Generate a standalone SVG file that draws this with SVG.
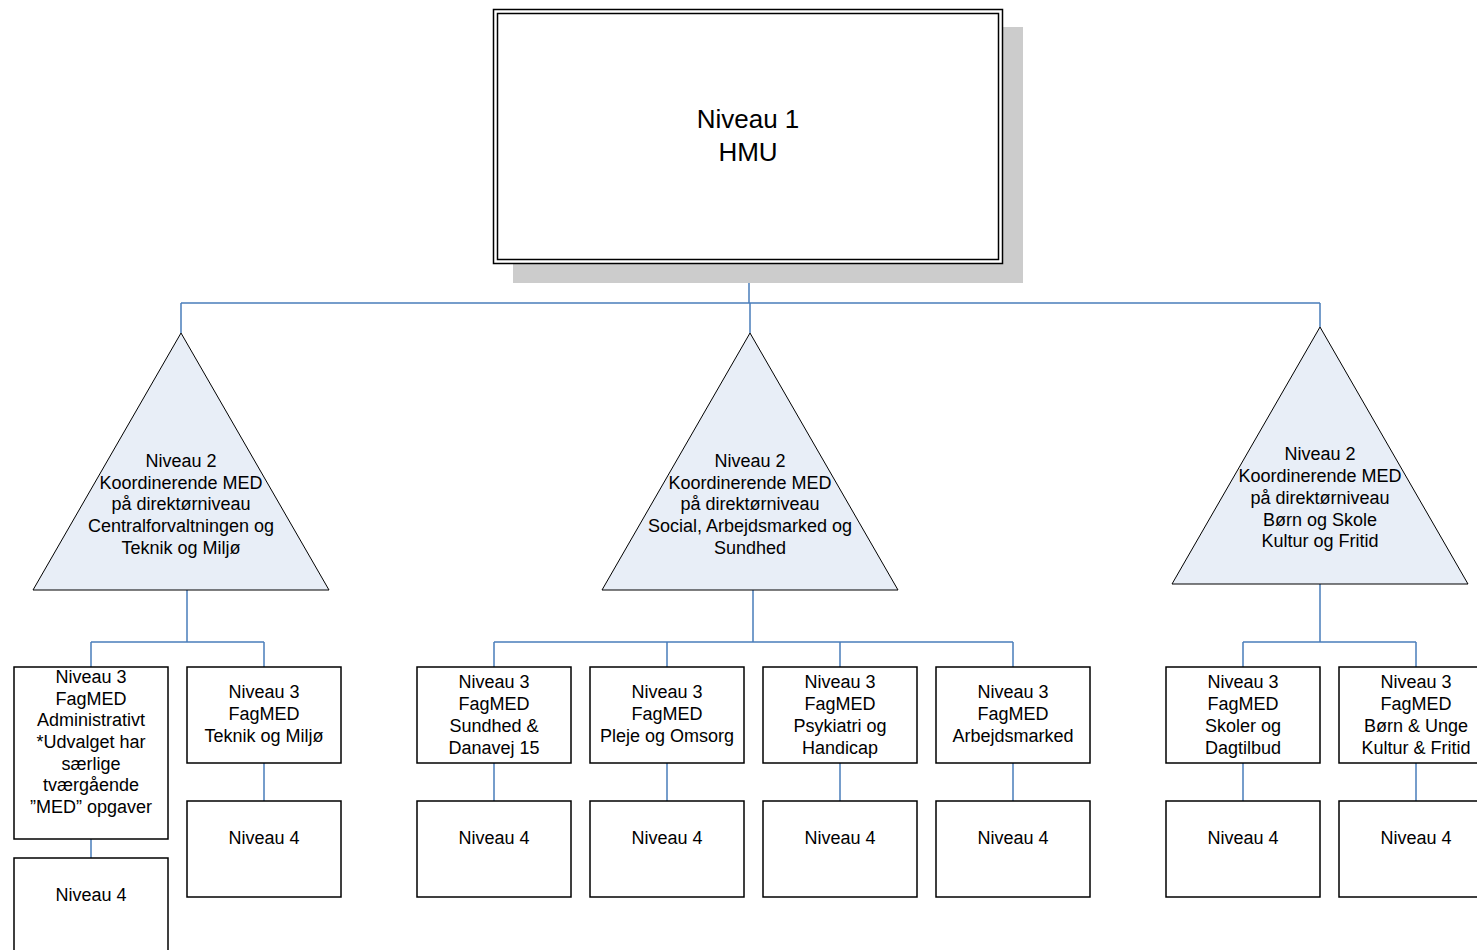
<svg xmlns="http://www.w3.org/2000/svg" width="1477" height="950" viewBox="0 0 1477 950">
<style>
text{font-family:"Liberation Sans",Arial,sans-serif;font-size:18px;fill:#000;text-anchor:middle}
.box{fill:#fff;stroke:#000;stroke-width:1.5}
.tri{fill:#e8eef7;stroke:#000;stroke-width:1}
.con{fill:none;stroke:#4a7ebb;stroke-width:1.5}
</style>
<rect width="1477" height="950" fill="#fff"/>
<g id="connectors">
<path class="con" d="M749 263V303M181 303H1320M181 303V333M750 303V333M1320 303V327"/>
<path class="con" d="M187 590V642M91 642H264M91 642V667M264 642V667M91 839V858M264 763V801"/>
<path class="con" d="M753 590V642M494 642H1013M494 642V667M667 642V667M840 642V667M1013 642V667M494 763V801M667 763V801M840 763V801M1013 763V801"/>
<path class="con" d="M1320 584V642M1243 642H1416M1243 642V667M1416 642V667M1243 763V801M1416 763V801"/>
</g>
<g id="n1">
<rect x="513" y="27" width="510" height="256" fill="#cccccc"/>
<rect x="493.5" y="9.5" width="509" height="254" fill="#fff" stroke="#000" stroke-width="1.5"/>
<rect x="497.5" y="13.5" width="501" height="246" fill="none" stroke="#000" stroke-width="1.5"/>
<text x="748" y="128" style="font-size:26px">Niveau 1</text>
<text x="748" y="161" style="font-size:26px">HMU</text>
</g>
<g id="n2a">
<polygon class="tri" points="181,333 329,590 33,590"/>
<text x="181" y="467">Niveau 2</text>
<text x="181" y="488.5">Koordinerende MED</text>
<text x="181" y="510">på direktørniveau</text>
<text x="181" y="532">Centralforvaltningen og</text>
<text x="181" y="553.5">Teknik og Miljø</text>
</g>
<g id="n2b">
<polygon class="tri" points="750,333 898,590 602,590"/>
<text x="750" y="467">Niveau 2</text>
<text x="750" y="488.5">Koordinerende MED</text>
<text x="750" y="510">på direktørniveau</text>
<text x="750" y="532">Social, Arbejdsmarked og</text>
<text x="750" y="553.5">Sundhed</text>
</g>
<g id="n2c">
<polygon class="tri" points="1320,327 1468,584 1172,584"/>
<text x="1320" y="460">Niveau 2</text>
<text x="1320" y="482">Koordinerende MED</text>
<text x="1320" y="504">på direktørniveau</text>
<text x="1320" y="525.5">Børn og Skole</text>
<text x="1320" y="547">Kultur og Fritid</text>
</g>
<g id="n3a">
<rect class="box" x="14" y="667" width="154" height="172"/>
<text x="91" y="683">Niveau 3</text>
<text x="91" y="704.5">FagMED</text>
<text x="91" y="726">Administrativt</text>
<text x="91" y="748">*Udvalget har</text>
<text x="91" y="769.5">særlige</text>
<text x="91" y="791">tværgående</text>
<text x="91" y="813">”MED” opgaver</text>
</g>
<g id="n4a">
<rect class="box" x="14" y="858" width="154" height="100"/>
<text x="91" y="901">Niveau 4</text>
</g>
<g id="n3b">
<rect class="box" x="187" y="667" width="154" height="96"/>
<text x="264" y="698">Niveau 3</text>
<text x="264" y="720">FagMED</text>
<text x="264" y="742">Teknik og Miljø</text>
</g>
<g id="n4b">
<rect class="box" x="187" y="801" width="154" height="96"/>
<text x="264" y="844">Niveau 4</text>
</g>
<g id="n3c">
<rect class="box" x="417" y="667" width="154" height="96"/>
<text x="494" y="688">Niveau 3</text>
<text x="494" y="710">FagMED</text>
<text x="494" y="732">Sundhed &amp;</text>
<text x="494" y="754">Danavej 15</text>
</g>
<g id="n4c">
<rect class="box" x="417" y="801" width="154" height="96"/>
<text x="494" y="844">Niveau 4</text>
</g>
<g id="n3d">
<rect class="box" x="590" y="667" width="154" height="96"/>
<text x="667" y="698">Niveau 3</text>
<text x="667" y="720">FagMED</text>
<text x="667" y="742">Pleje og Omsorg</text>
</g>
<g id="n4d">
<rect class="box" x="590" y="801" width="154" height="96"/>
<text x="667" y="844">Niveau 4</text>
</g>
<g id="n3e">
<rect class="box" x="763" y="667" width="154" height="96"/>
<text x="840" y="688">Niveau 3</text>
<text x="840" y="710">FagMED</text>
<text x="840" y="732">Psykiatri og</text>
<text x="840" y="754">Handicap</text>
</g>
<g id="n4e">
<rect class="box" x="763" y="801" width="154" height="96"/>
<text x="840" y="844">Niveau 4</text>
</g>
<g id="n3f">
<rect class="box" x="936" y="667" width="154" height="96"/>
<text x="1013" y="698">Niveau 3</text>
<text x="1013" y="720">FagMED</text>
<text x="1013" y="742">Arbejdsmarked</text>
</g>
<g id="n4f">
<rect class="box" x="936" y="801" width="154" height="96"/>
<text x="1013" y="844">Niveau 4</text>
</g>
<g id="n3g">
<rect class="box" x="1166" y="667" width="154" height="96"/>
<text x="1243" y="688">Niveau 3</text>
<text x="1243" y="710">FagMED</text>
<text x="1243" y="732">Skoler og</text>
<text x="1243" y="754">Dagtilbud</text>
</g>
<g id="n4g">
<rect class="box" x="1166" y="801" width="154" height="96"/>
<text x="1243" y="844">Niveau 4</text>
</g>
<g id="n3h">
<rect class="box" x="1339" y="667" width="154" height="96"/>
<text x="1416" y="688">Niveau 3</text>
<text x="1416" y="710">FagMED</text>
<text x="1416" y="732">Børn &amp; Unge</text>
<text x="1416" y="754">Kultur &amp; Fritid</text>
</g>
<g id="n4h">
<rect class="box" x="1339" y="801" width="154" height="96"/>
<text x="1416" y="844">Niveau 4</text>
</g>
</svg>
